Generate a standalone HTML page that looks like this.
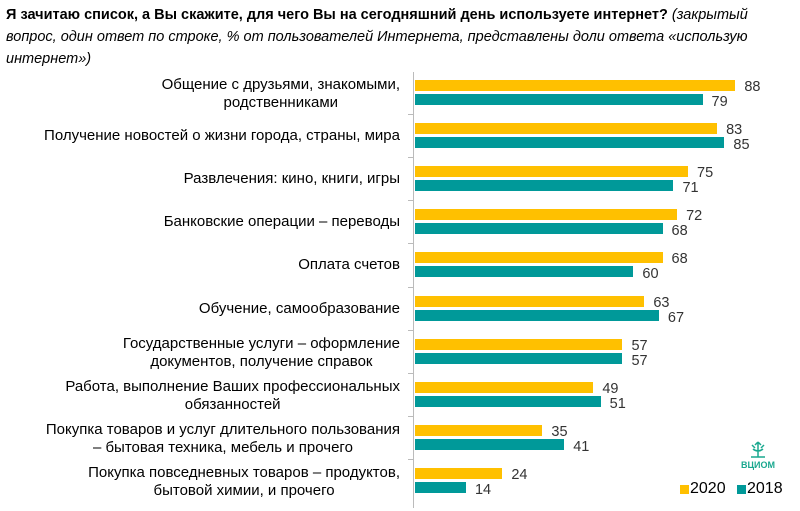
<!DOCTYPE html>
<html><head><meta charset="utf-8"><style>
body{margin:0;width:800px;height:511px;background:#fff;position:relative;overflow:hidden;font-family:"Liberation Sans",Arial,sans-serif;color:#000}
.t{position:absolute;left:6px;top:4px;width:790px;font-size:14.5px;line-height:22px}
.lab{position:absolute;right:400px;text-align:center;font-size:15px;line-height:18px;white-space:nowrap}
.b{position:absolute;left:415px;height:11px}
.y{background:#FFC000}.g{background:#009999}
.v{position:absolute;font-size:14.5px;color:#333;line-height:14px}
</style></head><body>
<div class="t"><b>Я зачитаю список, а Вы скажите, для чего Вы на сегодняшний день используете интернет?</b> <i>(закрытый вопрос, один ответ по строке, % от пользователей Интернета, представлены доли ответа «использую интернет»)</i></div>
<div style="position:absolute;left:413px;top:72px;width:1px;height:436px;background:#bbb"></div>
<div id="c"></div>
<script>
var d=[["Общение с друзьями, знакомыми,<br>родственниками",88,79],["Получение новостей о жизни города, страны, мира",83,85],["Развлечения: кино, книги, игры",75,71],["Банковские операции – переводы",72,68],["Оплата счетов",68,60],["Обучение, самообразование",63,67],["Государственные услуги – оформление<br>документов, получение справок",57,57],["Работа, выполнение Ваших профессиональных<br>обязанностей",49,51],["Покупка товаров и услуг длительного пользования<br>– бытовая техника, мебель и прочего",35,41],["Покупка повседневных товаров – продуктов,<br>бытовой химии, и прочего",24,14]];
var h="";
for(var i=0;i<d.length;i++){var y=80+i*43.1;var two=d[i][0].indexOf("<br>")>0;
h+='<div class="lab" style="top:'+(y+(two?-4:4))+'px">'+d[i][0]+'</div>';
var w1=d[i][1]*3.64,w2=d[i][2]*3.64;
h+='<div class="b y" style="top:'+y+'px;width:'+w1+'px"></div>';
h+='<div class="b g" style="top:'+(y+14)+'px;width:'+w2+'px"></div>';
h+='<div class="v" style="top:'+(y+0)+'px;left:'+(415+w1+9)+'px">'+d[i][1]+'</div>';
h+='<div class="v" style="top:'+(y+15)+'px;left:'+(415+w2+9)+'px">'+d[i][2]+'</div>';
if(i>0)h+='<div style="position:absolute;left:408px;top:'+(y-9)+'px;width:5px;height:1px;background:#bbb"></div>';}
document.getElementById("c").innerHTML=h;
</script>
<div style="position:absolute;left:738px;top:440px;width:40px;text-align:center;color:#1aa88f;font-size:9px;font-weight:bold">
<svg width="20" height="18" viewBox="0 0 20 18"><g stroke="#1aa88f" fill="none" stroke-width="1.5"><path d="M10 2v15M3 17h14M5 9q5 4 10 0M4 5l3 3M16 5l-3 3M10 2l-3 3M10 2l3 3"/></g></svg><br>ВЦИОМ</div>
<div style="position:absolute;left:680px;top:485px;width:9px;height:9px;background:#FFC000"></div>
<div style="position:absolute;left:690px;top:480px;font-size:16px">2020</div>
<div style="position:absolute;left:737px;top:485px;width:9px;height:9px;background:#009999"></div>
<div style="position:absolute;left:747px;top:480px;font-size:16px">2018</div>
</body></html>
